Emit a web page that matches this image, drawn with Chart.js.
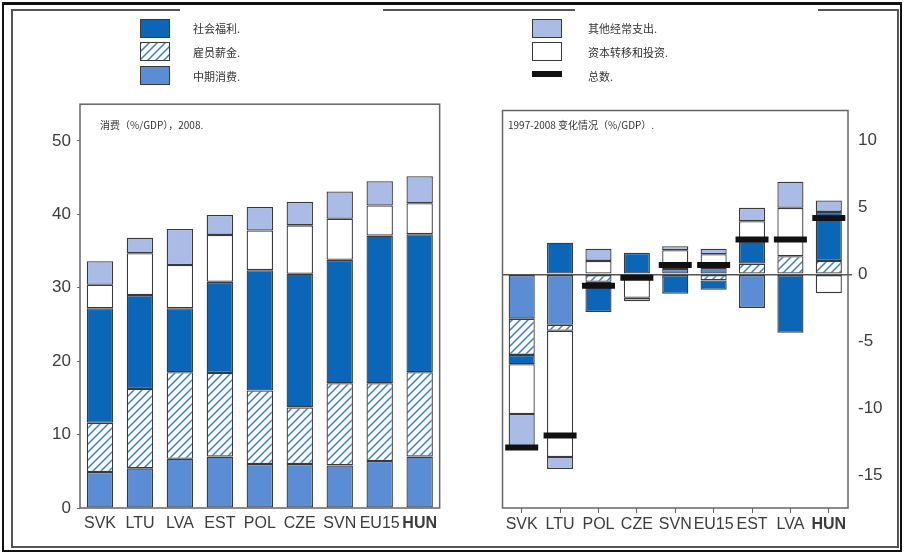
<!DOCTYPE html>
<html>
<head>
<meta charset="utf-8">
<script src="https://cdn.jsdelivr.net/npm/chart.js@4.4.0/dist/chart.umd.min.js"></script>
<style>
  html, body { margin: 0; padding: 0; background: #fff; }
  body { width: 904px; height: 554px; position: relative; overflow: hidden; font-family: "Noto Sans CJK SC", sans-serif; }
  .outer { position: absolute; left: 2px; top: 2px; width: 896px; height: 545px; border: 2px solid #111; border-top-width: 3px; }
  .inner { position: absolute; left: 11px; top: 9px; width: 884px; height: 535px; border: 2px solid #555; }
  .panel { position: absolute; }
  .cover { position: absolute; background: #fff; z-index: 5; }
  .sw { position: absolute; width: 30px; height: 19px; border: 1.5px solid #3a3a3a; box-sizing: border-box; z-index: 6; }
  .lbl { position: absolute; font-size: 11px; color: #333; z-index: 6; white-space: nowrap; }
  .note { position: absolute; font-size: 10px; color: #333; z-index: 6; white-space: nowrap; }
</style>
</head>
<body>
<div class="outer"></div>
<div class="inner"></div>

<div class="panel" style="left:20px; top:88px; width:423px; height:462px;"><canvas id="leftChart"></canvas></div>
<div class="panel" style="left:480px; top:88px; width:420px; height:462px;"><canvas id="rightChart"></canvas></div>

<!-- 图例 -->
<div class="cover" style="left:180px; top:6px; width:203px; height:93px;"></div>
<div class="cover" style="left:575px; top:6px; width:243px; height:93px;"></div>

<div class="sw" style="left:140px; top:19px; background:#0b66b8;"></div>
<div class="sw" id="hatchSwatch" style="left:140px; top:42px;"></div>
<div class="sw" style="left:140px; top:66px; background:#5a8dd3;"></div>
<div class="lbl" style="left:193px; top:20px;">社会福利.</div>
<div class="lbl" style="left:193px; top:44px;">雇员薪金.</div>
<div class="lbl" style="left:193px; top:68px;">中期消费.</div>

<div class="sw" style="left:532px; top:19px; background:#aabce6;"></div>
<div class="sw" style="left:532px; top:42px; background:#fff;"></div>
<div class="sw" style="left:532px; top:71px; height:6px; background:#111; border:none;"></div>
<div class="lbl" style="left:588px; top:20px;">其他经常支出.</div>
<div class="lbl" style="left:588px; top:44px;">资本转移和投资.</div>
<div class="lbl" style="left:588px; top:68px;">总数.</div>

<div class="note" style="left:100px; top:117px;">消费（%/GDP），2008.</div>
<div class="note" style="left:508px; top:117px;">1997-2008 变化情况（%/GDP）.</div>

<script>
// 左图：2008年消费结构（%/GDP）
const leftCats = ['SVK', 'LTU', 'LVA', 'EST', 'POL', 'CZE', 'SVN', 'EU15', 'HUN'];
const leftInter   = [4.9, 5.4, 6.7, 7.0, 6.0, 6.0, 5.8, 6.4, 7.0];
const leftWages   = [6.7, 10.8, 11.8, 11.4, 10.0, 7.7, 11.2, 10.6, 11.5];
const leftSocial  = [15.6, 12.8, 8.7, 12.4, 16.4, 18.2, 16.8, 20.1, 18.8];
const leftCapital = [3.2, 5.7, 5.9, 6.4, 5.4, 6.6, 5.6, 4.1, 4.2];
const leftOther   = [3.2, 2.1, 4.9, 2.7, 3.2, 3.2, 3.7, 3.3, 3.7];
const leftTicks = [0, 10, 20, 30, 40, 50];

// 右图：1997-2008 变化（%/GDP）
const rightCats = ['SVK', 'LTU', 'POL', 'CZE', 'SVN', 'EU15', 'EST', 'LVA', 'HUN'];
const rightInter   = [-3.3, -3.75, null, null, 0.4, 0.5, -2.5, null, null];
const rightWages   = [-2.7, -0.45, -0.55, null, null, -0.45, 0.8, 1.35, 1.0];
const rightSocial  = [-0.7, 2.35, -2.25, 1.6, -1.45, -0.7, 1.65, -4.35, 3.65];
const rightCapital = [-3.7, -9.4, 1.0, -1.75, 1.4, 1.0, 1.5, 3.6, -1.4];
const rightOther   = [-2.5, -0.9, 0.9, -0.25, 0.3, 0.4, 1.0, 1.95, 0.85];
const rightTotal   = [-12.9, -12.0, -0.85, -0.25, 0.7, 0.7, 2.6, 2.6, 4.2];
const rightTicks = [-15, -10, -5, 0, 5, 10];

const C_SOCIAL = '#0b66b8';
const C_INTER = '#5a8dd3';
const C_OTHER = '#aabce6';
const C_CAPITAL = '#ffffff';
const C_BORDER = '#3a3a3a';

// 斜线填充
function makeHatch() {
    const c = document.createElement('canvas');
    c.width = 8; c.height = 8;
    const g = c.getContext('2d');
    g.fillStyle = '#fff';
    g.fillRect(0, 0, 8, 8);
    g.strokeStyle = '#3b7dc8';
    g.lineWidth = 1.5;
    g.beginPath();
    g.moveTo(0, 8); g.lineTo(8, 0);
    g.moveTo(-2, 2); g.lineTo(2, -2);
    g.moveTo(6, 10); g.lineTo(10, 6);
    g.stroke();
    return c;
}
const hatchTile = makeHatch();
document.getElementById('hatchSwatch').style.background = `url(${hatchTile.toDataURL()})`;

const frame = {
    id: 'frame',
    afterDraw(chart) {
        const a = chart.chartArea, g = chart.ctx;
        g.save();
        g.strokeStyle = '#666';
        g.lineWidth = 1.5;
        g.strokeRect(a.left, a.top, a.right - a.left, a.bottom - a.top);
        g.restore();
    }
};

function barSet(label, data, color, pct) {
    return {
        type: 'bar', label, data,
        backgroundColor: color,
        borderColor: C_BORDER,
        borderWidth: 1.3,
        borderSkipped: false,
        barPercentage: pct,
        categoryPercentage: 1
    };
}

const tickFontX = ctx => ({
    family: '"Liberation Sans Narrow", "Liberation Sans", Arial',
    size: 16,
    weight: ctx.index === 8 ? 'bold' : 'normal'
});

function buildLeft() {
    const hatch = document.getElementById('leftChart').getContext('2d').createPattern(hatchTile, 'repeat');
    new Chart(document.getElementById('leftChart'), {
        type: 'bar',
        data: {
            labels: leftCats,
            datasets: [
                barSet('中期消费', leftInter, C_INTER, 0.66),
                barSet('雇员薪金', leftWages, hatch, 0.66),
                barSet('社会福利', leftSocial, C_SOCIAL, 0.66),
                barSet('资本转移和投资', leftCapital, C_CAPITAL, 0.66),
                barSet('其他经常支出', leftOther, C_OTHER, 0.66)
            ]
        },
        options: {
            responsive: true,
            maintainAspectRatio: false,
            animation: false,
            layout: { padding: { top: 9, right: 0, left: 0, bottom: 0 } },
            plugins: { legend: { display: false }, tooltip: { enabled: false } },
            scales: {
                x: {
                    stacked: true,
                    grid: { display: false, drawTicks: false },
                    border: { display: false },
                    ticks: { color: '#3c3c3c', font: tickFontX, padding: 6, maxRotation: 0, autoSkip: false },
                    afterFit: s => { s.height = 42; }
                },
                y: {
                    stacked: true,
                    min: 0, max: 55,
                    afterBuildTicks: s => { s.ticks = leftTicks.map(v => ({ value: v })); },
                    grid: { drawOnChartArea: false, tickLength: 3, color: '#666' },
                    border: { display: false },
                    ticks: { color: '#3c3c3c', font: { family: '"Liberation Sans", Arial', size: 17 }, padding: 6 },
                    afterFit: s => { s.width = 60; }
                }
            }
        },
        plugins: [frame]
    });
}

function buildRight() {
    const hatch = document.getElementById('rightChart').getContext('2d').createPattern(hatchTile, 'repeat');
    new Chart(document.getElementById('rightChart'), {
        type: 'bar',
        data: {
            labels: rightCats,
            datasets: [
                barSet('中期消费', rightInter, C_INTER, 0.68),
                barSet('雇员薪金', rightWages, hatch, 0.68),
                barSet('社会福利', rightSocial, C_SOCIAL, 0.68),
                barSet('资本转移和投资', rightCapital, C_CAPITAL, 0.68),
                barSet('其他经常支出', rightOther, C_OTHER, 0.68),
                {
                    type: 'line', label: '总数', data: rightTotal,
                    order: -1,
                    showLine: false,
                    pointStyle: 'line',
                    pointRadius: 16.5,
                    pointHoverRadius: 16.5,
                    pointBorderWidth: 6,
                    pointBorderColor: '#111',
                    pointBackgroundColor: '#111'
                }
            ]
        },
        options: {
            responsive: true,
            maintainAspectRatio: false,
            animation: false,
            layout: { padding: { top: 9, right: 0, left: 7, bottom: 0 } },
            plugins: { legend: { display: false }, tooltip: { enabled: false } },
            scales: {
                x: {
                    stacked: true,
                    grid: { display: true, drawOnChartArea: false, tickLength: 5, color: '#666', offset: false },
                    border: { display: false },
                    ticks: { color: '#3c3c3c', font: tickFontX, padding: 2, maxRotation: 0, autoSkip: false },
                    afterFit: s => { s.height = 42; }
                },
                y: {
                    stacked: true,
                    position: 'right',
                    min: -17.4, max: 12.2,
                    afterBuildTicks: s => { s.ticks = rightTicks.map(v => ({ value: v })); },
                    grid: {
                        drawOnChartArea: true,
                        tickLength: 4,
                        lineWidth: ctx => (ctx.tick && ctx.tick.value === 0 ? 1.5 : 0),
                        color: '#555'
                    },
                    border: { display: false },
                    ticks: { color: '#3c3c3c', font: { family: '"Liberation Sans", Arial', size: 17 }, padding: 6 },
                    afterFit: s => { s.width = 52; }
                }
            }
        },
        plugins: [frame]
    });
}

buildLeft();
buildRight();
</script>
</body>
</html>
